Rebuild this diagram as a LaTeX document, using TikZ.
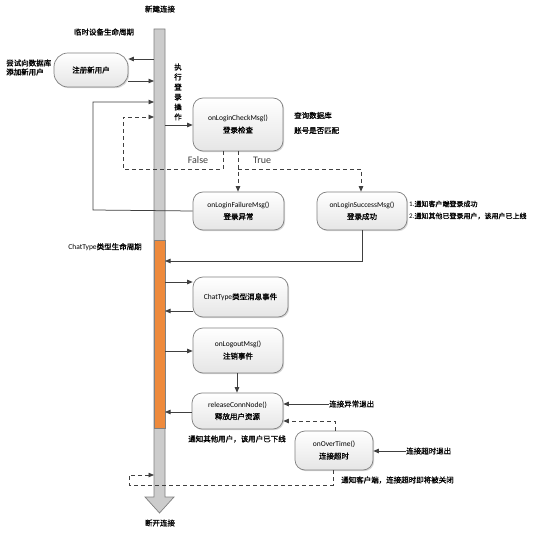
\documentclass[tikz,border=0pt]{standalone}
\usepackage{fontspec}
\setmainfont{Carlito}
\newfontfamily\cjkf{Noto Sans CJK SC}[FakeBold=1.2]
\usetikzlibrary{arrows.meta,shadows}
\newcommand{\zhs}[1]{{\cjkf #1}}
\definecolor{barorange}{HTML}{EE8A3C}
\definecolor{linec}{HTML}{404040}
\begin{document}
\begin{tikzpicture}[x=1pt,y=-1pt,
  box/.style={rectangle, rounded corners=10pt, draw=black!50, line width=0.7pt,
    top color=white, bottom color=black!10,
    drop shadow={shadow xshift=1.2pt, shadow yshift=-1.2pt, opacity=.3},
    align=center, inner sep=0pt, font=\fontsize{7.5}{12}\selectfont},
  lbl/.style={inner sep=0pt, font=\fontsize{7.5}{10}\selectfont, text=black},
  arr/.style={-{Triangle[length=5.5pt,width=4.5pt]}, draw=linec, line width=0.75pt},
  dsh/.style={arr, dash pattern=on 4pt off 3pt},
  dshl/.style={draw=linec, line width=0.75pt, dash pattern=on 4pt off 3pt}]
\useasboundingbox (0,0) rectangle (551,534);
\fill[white] (0,0) rectangle (551,534);

% lifeline bar
\path[draw=black!50, fill=black!20, line width=0.7pt]
  (154,29) -- (165,29) -- (165,497) -- (174,497) -- (159.5,513) -- (145,497) -- (154,497) -- cycle;
\path[draw=black!50, fill=barorange, line width=0.7pt] (154,240) rectangle (165,428);
\coordinate (barL) at (154,0);
\coordinate (barR) at (165,0);

% top/bottom labels
\node[lbl] (newc) at (160,9) {\zhs{新建连接}};
\node[lbl] (endc) at (160,523) {\zhs{断开连接}};
\node[lbl] (life1) at (104,32) {\zhs{临时设备生命周期}};
\node[lbl] (life2) at (105,247) {ChatType\zhs{类型生命周期}};

% nodes
\node[box, minimum width=74pt, minimum height=34pt, rounded corners=14pt] (reg) at (91,70) {\zhs{注册新用户}};
\node[box, minimum width=90pt, minimum height=53pt] (check) at (238,124.5) {onLoginCheckMsg()\\\zhs{登录检查}};
\node[box, minimum width=91pt, minimum height=38pt] (fail) at (238.5,211) {onLoginFailureMsg()\\\zhs{登录异常}};
\node[box, minimum width=90pt, minimum height=38pt] (succ) at (362,211) {onLoginSuccessMsg()\\\zhs{登录成功}};
\node[box, minimum width=95pt, minimum height=40pt] (chat) at (240.5,297) {ChatType\zhs{类型消息事件}};
\node[box, minimum width=90pt, minimum height=45pt] (logout) at (238,350.5) {onLogoutMsg()\\\zhs{注销事件}};
\node[box, minimum width=91pt, minimum height=36pt] (rel) at (237.5,411) {releaseConnNode()\\\zhs{释放用户资源}};
\node[box, minimum width=78pt, minimum height=39pt] (over) at (334,450.5) {onOverTime()\\\zhs{连接超时}};

% side labels
\node[lbl, anchor=west, align=left, font=\fontsize{7.5}{9}\selectfont] (try) at (6,67.5) {\zhs{尝试向数据库}\\\zhs{添加新用户}};
\node[lbl, align=center, font=\fontsize{7.5}{10}\selectfont] (exec) at (178,92) {\zhs{执}\\\zhs{行}\\\zhs{登}\\\zhs{录}\\\zhs{操}\\\zhs{作}};
\node[lbl, anchor=west, align=left, font=\fontsize{7.5}{15}\selectfont] (query) at (294,123) {\zhs{查询数据库}\\\zhs{账号是否匹配}};
\node[lbl, anchor=west, align=left, font=\fontsize{7}{12}\selectfont] (notes) at (409,210) {1.\zhs{通知客户端登录成功}\\2.\zhs{通知其他已登录用户，该用户已上线}};
\node[lbl, text=linec, font=\fontsize{10}{12}\selectfont] (fls) at (198,160) {False};
\node[lbl, text=linec, font=\fontsize{10}{12}\selectfont] (tru) at (262,160) {True};
\node[lbl] (offl) at (237,439) {\zhs{通知其他用户，该用户已下线}};
\node[lbl, anchor=west] (exc) at (329,404) {\zhs{连接异常退出}};
\node[lbl, anchor=west] (tout) at (406,451) {\zhs{连接超时退出}};
\node[lbl, anchor=west] (toutn) at (341,480) {\zhs{通知客户端，连接超时即将被关闭}};

% connectors
\draw[arr] (barL |- 0,59) -- (reg.east |- 0,59);
\draw[arr] (reg.east |- 0,81) -- (barL |- 0,81);
\draw[arr] (fail.west) -- (93,210) -- (93,102) -- (barL |- 0,102);
\draw[dsh] (223,151) -- (223,169) -- (123,169) -- (123,117) -- (barL |- 0,117);
\draw[arr] (barR |- 0,125) -- (check.west |- 0,125);
\draw[dsh] (238,151) -- (fail.north -| 238,0);
\draw[dsh] (238,169) -- (361,169) -- (succ.north -| 361,0);
\draw[arr] (succ.south) -- (362,261) -- (barR |- 0,261);
\draw[arr] (barR |- 0,282) -- (chat.west |- 0,282);
\draw[arr] (chat.west |- 0,311) -- (barR |- 0,311);
\draw[arr] (barR |- 0,351) -- (logout.west |- 0,351);
\draw[arr] (logout.south -| 237,0) -- (rel.north -| 237,0);
\draw[arr] (rel.west |- 0,412) -- (barR |- 0,412);
\draw[arr] (exc.west) -- (rel.east |- exc.west);
\draw[dsh] (over.north -| 335,0) -- (335,421) -- (rel.east |- 0,421);
\draw[arr] (tout.west) -- (over.east |- tout.west);
\draw[dsh] (over.south -| 333,0) -- (333,485) -- (129,485) -- (129,475) -- (barL |- 0,475);
\end{tikzpicture}
\end{document}
